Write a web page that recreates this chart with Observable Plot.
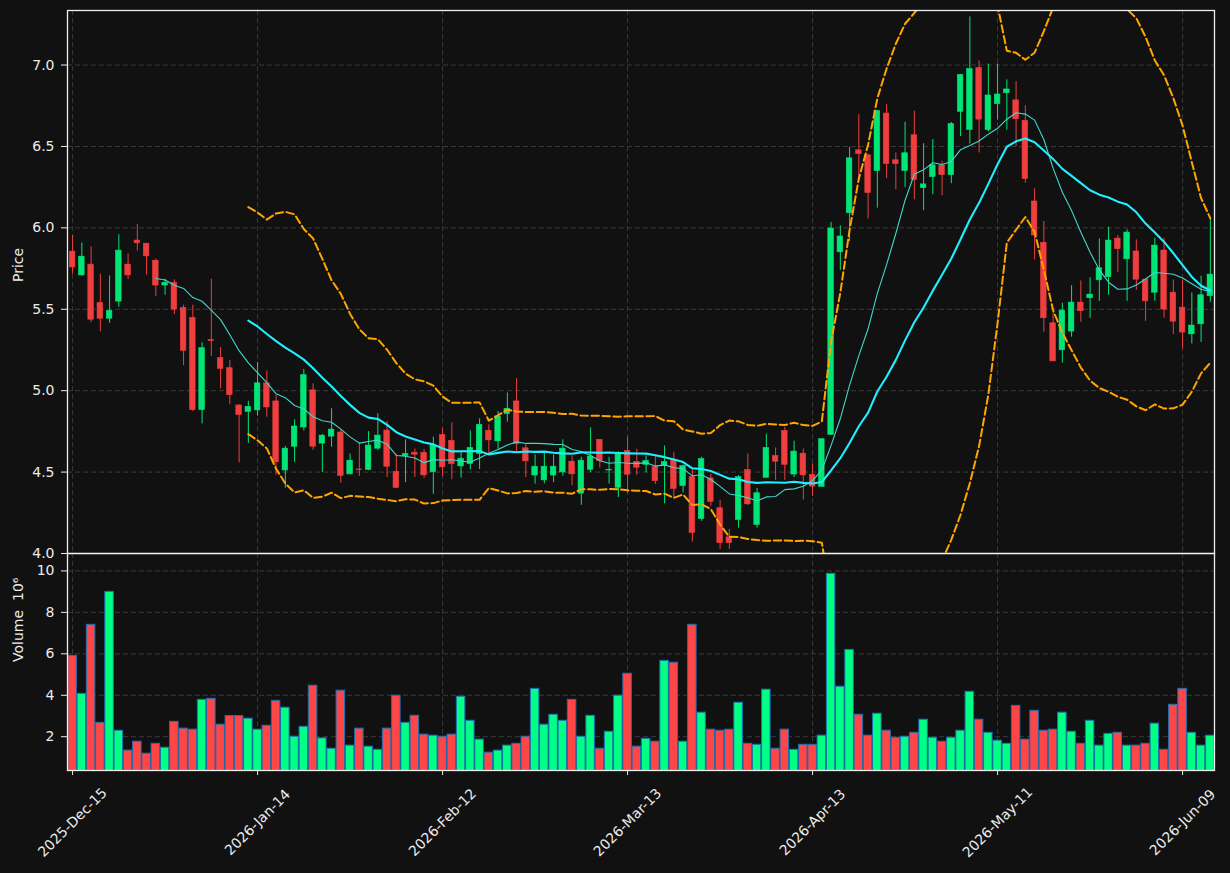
<!DOCTYPE html>
<html><head><meta charset="utf-8">
<script src="https://cdn.jsdelivr.net/npm/d3@7"></script>
<script src="https://cdn.jsdelivr.net/npm/@observablehq/plot@0.6"></script>
<style>
html,body{margin:0;padding:0;background:#111;}
#chart{width:1230px;height:873px;overflow:hidden;background:#111}
#chart svg{display:block;overflow:visible}
#chart svg text{font-size:14px}
</style></head><body><div id="chart"></div>
<script>
const opens = [5.854,5.708,5.774,5.539,5.442,5.547,5.774,5.922,5.903,5.798,5.646,5.663,5.508,5.447,4.881,5.311,5.200,5.138,4.909,4.870,
4.879,5.045,4.934,4.510,4.656,4.774,5.002,4.675,4.718,4.743,4.486,4.516,4.514,4.644,4.755,4.502,4.599,4.619,4.619,4.500,
4.728,4.691,4.535,4.549,4.611,4.753,4.689,4.856,4.934,4.646,4.479,4.449,4.479,4.498,4.564,4.368,4.514,4.698,4.510,4.404,
4.630,4.562,4.545,4.531,4.537,4.574,4.414,4.469,4.212,4.461,4.278,4.099,4.206,4.512,4.175,4.465,4.599,4.753,4.485,4.613,
4.483,4.409,4.729,5.850,6.090,6.476,6.446,6.349,6.702,6.415,6.349,6.569,6.244,6.312,6.384,6.324,6.713,6.602,6.982,6.600,
6.760,6.827,6.783,6.657,6.162,5.908,5.414,5.248,5.363,5.541,5.568,5.678,5.697,5.934,5.807,5.855,5.682,5.602,5.861,5.602,
5.510,5.346,5.408,5.580];
const highs = [5.953,5.907,5.883,5.716,5.704,5.957,5.840,6.020,5.903,5.809,5.685,5.681,5.525,5.525,5.294,5.685,5.265,5.185,4.914,4.935,
5.173,5.121,4.971,4.658,4.821,5.130,5.043,4.730,4.889,4.759,4.611,4.681,4.749,4.858,4.811,4.607,4.698,4.642,4.638,4.715,
4.767,4.802,4.621,4.753,4.827,4.790,4.872,4.986,5.074,4.673,4.605,4.619,4.605,4.698,4.599,4.591,4.772,4.698,4.591,4.625,
4.716,4.640,4.599,4.599,4.660,4.621,4.543,4.516,4.591,4.486,4.327,4.148,4.479,4.611,4.399,4.733,4.648,4.774,4.690,4.642,
4.550,4.702,6.033,6.012,6.495,6.696,6.446,6.721,6.758,6.460,6.649,6.717,6.517,6.542,6.409,6.647,6.943,7.296,7.025,7.006,
7.006,6.909,6.898,6.750,6.240,6.039,5.475,5.537,5.645,5.674,5.693,5.932,6.004,5.953,5.988,5.926,5.682,5.936,5.936,5.680,
5.680,5.600,5.703,6.061];
const lows = [5.716,5.702,5.418,5.362,5.414,5.512,5.683,5.858,5.710,5.578,5.586,5.467,5.154,4.872,4.796,5.210,5.012,4.914,4.556,4.676,
4.844,4.837,4.481,4.401,4.560,4.753,4.634,4.498,4.652,4.432,4.484,4.473,4.508,4.632,4.467,4.401,4.436,4.467,4.463,4.364,
4.471,4.453,4.463,4.514,4.516,4.601,4.640,4.807,4.626,4.467,4.426,4.428,4.436,4.475,4.416,4.296,4.498,4.525,4.426,4.343,
4.368,4.479,4.496,4.424,4.305,4.335,4.372,4.070,4.198,4.290,4.025,4.025,4.156,4.294,4.156,4.465,4.449,4.449,4.466,4.328,
4.351,4.409,4.725,5.739,5.916,6.306,6.055,6.121,6.302,6.234,6.248,6.172,6.105,6.203,6.197,6.271,6.561,6.515,6.460,6.589,
6.661,6.600,6.498,6.274,5.803,5.359,5.180,5.170,5.328,5.420,5.445,5.549,5.586,5.727,5.549,5.617,5.426,5.549,5.445,5.344,
5.256,5.287,5.297,5.543];
const closes = [5.757,5.823,5.436,5.442,5.490,5.860,5.708,5.905,5.825,5.646,5.663,5.498,5.245,4.881,5.261,5.305,5.134,4.973,4.850,4.900,
5.045,4.897,4.560,4.644,4.780,5.095,4.656,4.724,4.761,4.477,4.570,4.512,4.663,4.724,4.533,4.403,4.611,4.607,4.480,4.662,
4.529,4.549,4.582,4.648,4.790,4.695,4.842,4.889,4.671,4.566,4.533,4.533,4.533,4.644,4.486,4.570,4.595,4.568,4.514,4.612,
4.484,4.527,4.568,4.444,4.562,4.397,4.537,4.126,4.580,4.317,4.064,4.064,4.469,4.302,4.370,4.648,4.564,4.545,4.626,4.480,
4.411,4.702,5.996,5.947,6.427,6.454,6.214,6.717,6.392,6.392,6.458,6.294,6.267,6.384,6.324,6.637,6.938,6.975,6.665,6.813,
6.819,6.850,6.667,6.300,5.953,5.445,5.180,5.492,5.541,5.488,5.590,5.752,5.922,5.869,5.971,5.682,5.549,5.891,5.498,5.424,
5.357,5.400,5.586,5.713];
// volume in millions
const volumes = [5.90,4.07,7.40,2.67,8.99,2.29,1.33,1.76,1.18,1.66,1.47,2.72,2.39,2.34,3.78,3.83,2.58,3.00,3.00,2.87,
2.34,2.53,3.73,3.40,2.00,2.48,4.46,1.92,1.42,4.22,1.57,2.39,1.52,1.37,2.39,3.98,2.67,3.01,2.10,2.05,
2.00,2.10,3.93,2.77,1.86,1.23,1.33,1.57,1.66,2.00,4.31,2.58,3.06,2.77,3.78,2.00,3.01,1.42,2.24,3.98,
5.04,1.52,1.90,1.76,5.66,5.57,1.76,7.40,3.16,2.34,2.29,2.34,3.64,1.66,1.61,4.27,1.42,2.34,1.37,1.61,
1.61,2.05,9.86,4.41,6.19,3.06,2.05,3.11,2.29,1.95,2.00,2.19,2.82,1.95,1.76,1.95,2.29,4.17,2.82,2.19,
1.81,1.66,3.49,1.86,3.25,2.29,2.34,3.16,2.24,1.66,2.77,1.57,2.14,2.19,1.57,1.57,1.66,2.63,1.37,3.54,
4.31,2.19,1.57,2.05];
const tickIdx = [0,20,40,60,80,100,120];
const tickLabels = ["2025-Dec-15","2026-Jan-14","2026-Feb-12","2026-Mar-13","2026-Apr-13","2026-May-11","2026-Jun-09"];
const priceTicks = [4.0,4.5,5.0,5.5,6.0,6.5,7.0];
const volTicks = [2,4,6,8,10];

const N = closes.length;
const bars = d3.range(N).map(i => ({i, open: opens[i], high: highs[i], low: lows[i], close: closes[i], volume: volumes[i], up: closes[i] >= opens[i]}));
const xDomain = [-0.55, N - 0.55];
const UP = "#00e676", DOWN = "#f03e3e", VUP = "#00ff85", VDOWN = "#ff4646";
const TXT = "#ececec", GRID = "#3f3f3f";
const style1 = {background: "#111", color: TXT, fontFamily: "'DejaVu Sans', sans-serif", fontSize: "14px", overflow: "visible"};
const style2 = {background: "transparent", color: TXT, fontFamily: "'DejaVu Sans', sans-serif", fontSize: "14px", overflow: "visible"};

const price = Plot.plot({
  width: 1230, height: 553, marginTop: 10, marginBottom: 0, marginLeft: 67, marginRight: 16,
  style: style1,
  x: {domain: xDomain, axis: null},
  y: {domain: [4.0, 7.335], axis: null},
  color: {type: "identity"},
  marks: [
    Plot.gridY(priceTicks, {stroke: GRID, strokeOpacity: 1, strokeWidth: 0.9, strokeDasharray: "5,3"}),
    Plot.gridX(tickIdx, {stroke: GRID, strokeOpacity: 1, strokeWidth: 0.9, strokeDasharray: "5,3"}),
    Plot.axisY(priceTicks, {tickFormat: d => d.toFixed(1), tickSize: 6, tickPadding: 7, label: null, fontSize: 14, stroke: TXT}),
    Plot.ruleX(bars, {x: "i", y1: "low", y2: "high", stroke: d => d.up ? UP : DOWN, strokeWidth: 1}),
    Plot.rect(bars, {x1: d => d.i - 0.3, x2: d => d.i + 0.3, y1: "open", y2: "close", fill: d => d.up ? UP : DOWN, stroke: d => d.up ? UP : DOWN, strokeWidth: 0.6}),
    Plot.lineY(bars, Plot.windowY({k: 20, anchor: "end", strict: true, reduce: v => d3.mean(v) + 2 * d3.deviation(v)},
      {x: "i", y: "close", stroke: "#ffa500", strokeWidth: 2, strokeDasharray: "7.5,3.5", clip: true})),
    Plot.lineY(bars, Plot.windowY({k: 20, anchor: "end", strict: true, reduce: v => d3.mean(v) - 2 * d3.deviation(v)},
      {x: "i", y: "close", stroke: "#ffa500", strokeWidth: 2, strokeDasharray: "7.5,3.5", clip: true})),
    Plot.lineY(bars, Plot.windowY({k: 10, anchor: "end", strict: true, reduce: "mean"},
      {x: "i", y: "close", stroke: "#40d8cc", strokeWidth: 1.1, clip: true})),
    Plot.lineY(bars, Plot.windowY({k: 20, anchor: "end", strict: true, reduce: "mean"},
      {x: "i", y: "close", stroke: "#1ff0ff", strokeWidth: 2.1, clip: true})),
    Plot.text(["Price"], {frameAnchor: "left", dx: -49, rotate: -90, fill: TXT, fontSize: 14}),
    Plot.frame({stroke: "#f0f0f0", strokeWidth: 1.3})
  ]
});

const vol = Plot.plot({
  width: 1230, height: 320, marginTop: 0, marginBottom: 103, marginLeft: 67, marginRight: 16,
  style: style2,
  x: {domain: xDomain, axis: null},
  y: {domain: [0.37, 10.84], axis: null},
  color: {type: "identity"},
  marks: [
    Plot.gridY(volTicks, {stroke: GRID, strokeOpacity: 1, strokeWidth: 0.9, strokeDasharray: "5,3"}),
    Plot.gridX(tickIdx, {stroke: GRID, strokeOpacity: 1, strokeWidth: 0.9, strokeDasharray: "5,3"}),
    Plot.axisY(volTicks, {tickFormat: d => String(d), tickSize: 6, tickPadding: 7, label: null, fontSize: 14, stroke: TXT}),
    Plot.rectY(bars, {x1: d => d.i - 0.46, x2: d => d.i + 0.46, y1: 0, y2: "volume", fill: d => d.up ? VUP : VDOWN, stroke: "#1f6fb4", strokeWidth: 1, clip: true}),
    Plot.axisX(tickIdx, {tickSize: 5, tickFormat: () => "", stroke: TXT, label: null}),
    Plot.text(tickIdx, {x: d => d, frameAnchor: "bottom", text: (d, i) => tickLabels[i], rotate: -45, dy: 52, textAnchor: "middle", lineAnchor: "middle", fill: TXT, fontSize: 14}),
    Plot.text(["Volume  10\u2076"], {frameAnchor: "left", dx: -49, rotate: -90, fill: TXT, fontSize: 14}),
    Plot.frame({stroke: "#f0f0f0", strokeWidth: 1.3})
  ]
});

const host = document.getElementById("chart");
host.appendChild(price);
host.appendChild(vol);
</script>
</body></html>
